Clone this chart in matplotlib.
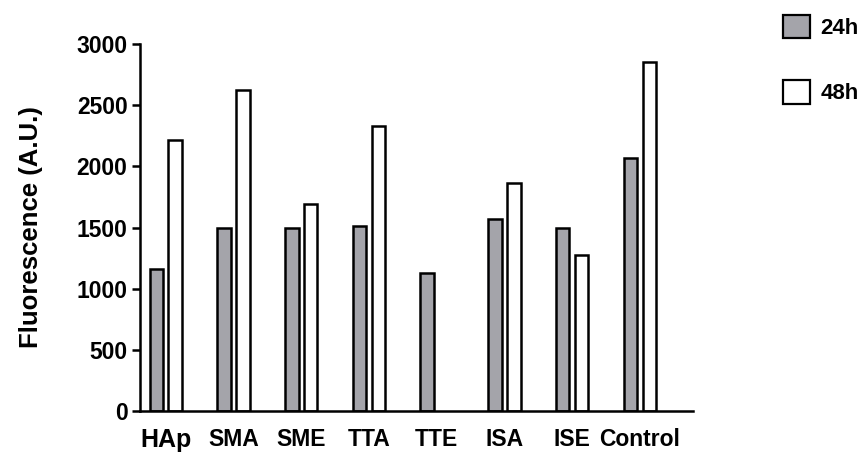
import matplotlib
matplotlib.use("Agg")
import matplotlib.pyplot as plt
from matplotlib.patches import Patch
import numpy as np

plt.rcParams["font.family"] = ["Liberation Sans", "DejaVu Sans"]

# 数据
groups = ["HAp", "SMA", "SME", "TTA", "TTE", "ISA", "ISE", "Control"]
vals_24h = [1160, 1495, 1495, 1515, 1125, 1570, 1500, 2070]
vals_48h = [2215, 2625, 1695, 2330, 0, 1865, 1275, 2855]
yticks = [0, 500, 1000, 1500, 2000, 2500, 3000]

gray = "#a4a4aa"

fig = plt.figure(figsize=(8.67, 4.59), dpi=100)
ax = fig.add_axes([0.1615, 0.1046, 0.6375, 0.7995])

x = np.arange(len(groups))
w = 0.2
off = 0.14
ax.bar(x - off, vals_24h, w, color=gray, edgecolor="black", linewidth=1.8, label="24h")
# TTE 48h 无数据
x48 = [xi for xi, v in zip(x, vals_48h) if v > 0]
v48 = [v for v in vals_48h if v > 0]
ax.bar(np.array(x48) + off, v48, w, color="white", edgecolor="black", linewidth=1.8, label="48h")

ax.set_xlim(-0.38, 7.78)
ax.set_ylim(0, 3000)
ax.set_yticks(yticks)
ax.set_yticklabels([str(t) for t in yticks], fontsize=16.5, fontweight="bold")
ax.set_xticks(x)
ax.set_xticklabels(groups, fontsize=16.5, fontweight="bold")
ax.get_xticklabels()[0].set_fontsize(18)
ax.tick_params(axis="x", length=0, pad=12)
ax.tick_params(axis="y", length=6, width=1.8, pad=3)

for s in ["top", "right"]:
    ax.spines[s].set_visible(False)
for s in ["left", "bottom"]:
    ax.spines[s].set_linewidth(1.8)

ax.set_ylabel("Fluorescence (A.U.)", fontsize=18.5, fontweight="bold", labelpad=24)

handles = [Patch(facecolor=gray, edgecolor="black", linewidth=1.6, label="24h"),
           Patch(facecolor="white", edgecolor="black", linewidth=1.6, label="48h")]
fig.legend(handles=handles, loc="upper left", bbox_to_anchor=(0.903, 0.968),
           frameon=False, borderpad=0, borderaxespad=0,
           handlelength=1.2, handleheight=1.25, handletextpad=0.5,
           labelspacing=1.85, prop={"size": 16, "weight": "bold"})

fig.savefig("out.png", dpi=100)
